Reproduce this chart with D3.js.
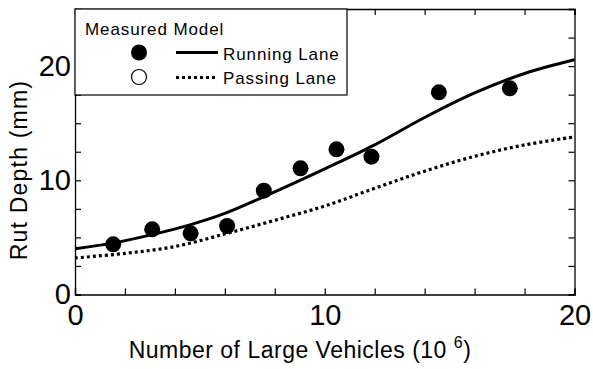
<!DOCTYPE html>
<html>
<head>
<meta charset="utf-8">
<script src="https://cdn.jsdelivr.net/npm/d3@7"></script>
<style>
  body { margin: 0; background: #fff; }
  svg text { font-family: "Liberation Sans", Arial, sans-serif; fill: #000; }
</style>
</head>
<body>
<div id="chart"></div>
<script>
// measured rut depth, running lane
var measuredX = [1.53, 3.09, 4.63, 6.09, 7.56, 9.03, 10.47, 11.87, 14.57, 17.41];
var measuredY = [4.39, 5.71, 5.36, 6.0, 9.09, 11.05, 12.71, 12.07, 17.7, 18.05];

// model curves
var modelX = [0, 1.5, 3, 4.6, 6, 7.5, 10, 12, 14, 16, 18, 20];
var runningY = [4.0, 4.5, 5.2, 6.1, 7.1, 8.5, 11.0, 13.1, 15.5, 17.65, 19.35, 20.55];
var passingX = [0, 2, 4, 6, 8, 10, 12, 14, 16, 18, 20];
var passingY = [3.2, 3.6, 4.2, 5.3, 6.5, 7.75, 9.3, 10.8, 12.1, 13.1, 13.8];

var xTicks = [0, 2, 4, 6, 8, 10, 12, 14, 16, 18, 20];
var yTicks = [0, 2.5, 5, 7.5, 10, 12.5, 15, 17.5, 20, 22.5, 25];
var labelTicks = [0, 10, 20];

var svgWidth = 593;
var svgHeight = 369;
var margin = { top: 9, right: 18.5, bottom: 74.5, left: 75 };
var width = svgWidth - margin.left - margin.right;
var height = svgHeight - margin.top - margin.bottom;

var svg = d3.select("#chart")
  .append("svg")
  .attr("width", svgWidth)
  .attr("height", svgHeight);

var chartGroup = svg.append("g")
  .attr("transform", `translate(${margin.left}, ${margin.top})`);

var x = d3.scaleLinear().domain([0, 20]).range([0, width]);
var y = d3.scaleLinear().domain([0, 25]).range([height, 0]);

var fmt = d => labelTicks.indexOf(d) >= 0 ? d : "";

// axes, ticks pointing inward
var bottomAxis = d3.axisBottom(x).tickValues(xTicks).tickSize(-6).tickPadding(10).tickFormat(fmt);
var topAxis = d3.axisTop(x).tickValues(xTicks).tickSize(-6).tickFormat("");
var leftAxis = d3.axisLeft(y).tickValues(yTicks).tickSize(-6).tickPadding(4).tickFormat(fmt);
var rightAxis = d3.axisRight(y).tickValues(yTicks).tickSize(-6).tickFormat("");

chartGroup.append("g").attr("transform", `translate(0, ${height})`).call(bottomAxis);
chartGroup.append("g").call(topAxis);
chartGroup.append("g").call(leftAxis);
chartGroup.append("g").attr("transform", `translate(${width}, 0)`).call(rightAxis);

chartGroup.selectAll(".domain").attr("stroke", "#000").attr("stroke-width", 1.3);
chartGroup.selectAll(".tick line").attr("stroke", "#000").attr("stroke-width", 1.2);
chartGroup.selectAll(".tick text").attr("font-size", 29).attr("fill", "#000")
  .attr("font-family", "Liberation Sans, Arial, sans-serif");

// model lines
var line = d3.line().curve(d3.curveCatmullRom.alpha(0.5));

chartGroup.append("path")
  .attr("d", line(passingX.map((d, i) => [x(d), y(passingY[i])])))
  .attr("fill", "none")
  .attr("stroke", "#000")
  .attr("stroke-width", 3.2)
  .attr("stroke-dasharray", "3,3");

chartGroup.append("path")
  .attr("d", line(modelX.map((d, i) => [x(d), y(runningY[i])])))
  .attr("fill", "none")
  .attr("stroke", "#000")
  .attr("stroke-width", 3);

// measured points
chartGroup.selectAll("circle.measured")
  .data(measuredX)
  .enter()
  .append("circle")
  .attr("class", "measured")
  .attr("cx", d => x(d))
  .attr("cy", (d, i) => y(measuredY[i]))
  .attr("r", 8)
  .attr("fill", "#000");

// legend
var legend = chartGroup.append("g");
legend.append("rect")
  .attr("x", 0).attr("y", 0)
  .attr("width", 272).attr("height", 86)
  .attr("fill", "#fff")
  .attr("stroke", "#000")
  .attr("stroke-width", 1.2);

function legendText(tx, ty, s) {
  legend.append("text").attr("x", tx).attr("y", ty)
    .attr("font-size", 17).attr("letter-spacing", 0.9).text(s);
}

legendText(10, 26, "Measured Model");

legend.append("circle").attr("cx", 64).attr("cy", 43.5).attr("r", 8).attr("fill", "#000");
legend.append("line").attr("x1", 101).attr("x2", 143).attr("y1", 43.5).attr("y2", 43.5)
  .attr("stroke", "#000").attr("stroke-width", 3);
legendText(148, 51, "Running Lane");

legend.append("circle").attr("cx", 64).attr("cy", 68).attr("r", 7.5)
  .attr("fill", "#fff").attr("stroke", "#000").attr("stroke-width", 1.2);
legend.append("line").attr("x1", 101).attr("x2", 143).attr("y1", 68.5).attr("y2", 68.5)
  .attr("stroke", "#000").attr("stroke-width", 3.2).attr("stroke-dasharray", "3,3");
legendText(148, 75, "Passing Lane");

// axis titles
var xTitle = svg.append("text")
  .attr("x", 300)
  .attr("y", 358)
  .attr("text-anchor", "middle")
  .attr("font-size", 23)
  .attr("letter-spacing", 0.5)
  .text("Number of Large Vehicles (10 ");
xTitle.append("tspan").attr("font-size", 16).attr("dy", -10).text("6");
xTitle.append("tspan").attr("dy", 10).text(")");

svg.append("text")
  .attr("transform", "translate(27, 170) rotate(-90)")
  .attr("text-anchor", "middle")
  .attr("font-size", 23)
  .attr("letter-spacing", 1.2)
  .text("Rut Depth (mm)");
</script>
</body>
</html>
